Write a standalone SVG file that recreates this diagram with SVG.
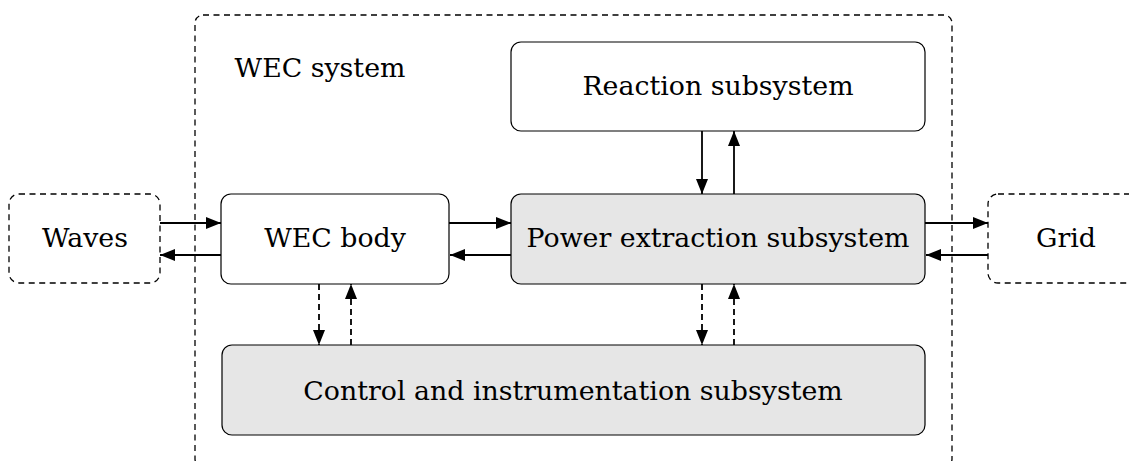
<svg xmlns="http://www.w3.org/2000/svg" width="1129" height="461" viewBox="0 0 1129 461">
  <defs>
    <style>
      .box { fill: #ffffff; stroke: #000000; stroke-width: 1.2; }
      .shaded { fill: #e6e6e6; stroke: #000000; stroke-width: 1.2; }
      .dashbox { fill: none; stroke: #000000; stroke-width: 1.3; stroke-dasharray: 6 4.5; }
      .label { font-family: "DejaVu Serif", serif; font-size: 26.8px; fill: #000000; text-anchor: middle; }
      .flow { stroke: #000000; stroke-width: 1.8; fill: none; marker-end: url(#head); }
      .signal { stroke: #000000; stroke-width: 1.8; fill: none; stroke-dasharray: 6 4; marker-end: url(#head); }
    </style>
    <marker id="head" viewBox="0 0 15 12" refX="15" refY="6" markerWidth="15" markerHeight="12" markerUnits="userSpaceOnUse" orient="auto">
      <path d="M0,0 L15,6 L0,12 Z" fill="#000000"/>
    </marker>
  </defs>

  <!-- System boundary -->
  <g id="wec-system">
    <rect class="dashbox" x="195" y="15" width="757" height="452" rx="8"/>
    <text class="label" x="320" y="77">WEC system</text>
  </g>

  <!-- External: waves -->
  <g id="waves">
    <rect class="dashbox" x="9" y="194" width="151" height="89" rx="10"/>
    <text class="label" x="85" y="247">Waves</text>
  </g>

  <!-- External: grid -->
  <g id="grid">
    <rect class="dashbox" x="988" y="194" width="160" height="89" rx="10"/>
    <text class="label" x="1066" y="247">Grid</text>
  </g>

  <g id="wec-body">
    <rect class="box" x="221" y="194" width="228" height="90" rx="10"/>
    <text class="label" x="335" y="247">WEC body</text>
  </g>

  <g id="reaction">
    <rect class="box" x="511" y="42" width="414" height="89" rx="10"/>
    <text class="label" x="718" y="95">Reaction subsystem</text>
  </g>

  <g id="power-extraction">
    <rect class="shaded" x="511" y="194" width="414" height="90" rx="10"/>
    <text class="label" x="718" y="247">Power extraction subsystem</text>
  </g>

  <g id="control">
    <rect class="shaded" x="222" y="345" width="703" height="90" rx="10"/>
    <text class="label" x="573" y="400">Control and instrumentation subsystem</text>
  </g>

  <!-- Power and signal flows -->
  <g id="connectors">
    <line class="flow" x1="160" y1="223" x2="221" y2="223"/>
    <line class="flow" x1="221" y1="255" x2="160" y2="255"/>
    <line class="flow" x1="449" y1="223" x2="511" y2="223"/>
    <line class="flow" x1="511" y1="255" x2="450" y2="255"/>
    <line class="flow" x1="925" y1="223" x2="988" y2="223"/>
    <line class="flow" x1="988" y1="255" x2="926" y2="255"/>
    <line class="flow" x1="702" y1="131" x2="702" y2="194"/>
    <line class="flow" x1="734" y1="194" x2="734" y2="131"/>
    <line class="signal" x1="319" y1="284" x2="319" y2="345"/>
    <line class="signal" x1="351" y1="345" x2="351" y2="284"/>
    <line class="signal" x1="702" y1="284" x2="702" y2="345"/>
    <line class="signal" x1="734" y1="345" x2="734" y2="284"/>
  </g>
</svg>
